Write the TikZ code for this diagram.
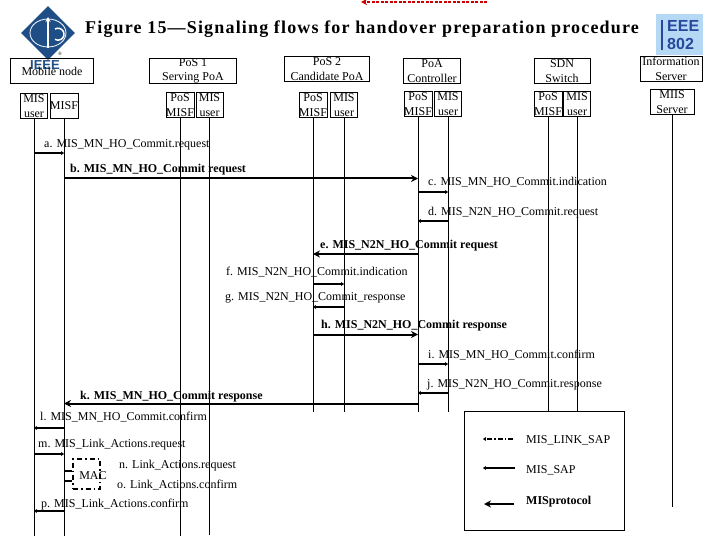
\documentclass[tikz,border=0pt]{standalone}
\usepackage{fontspec}
\setmainfont{Liberation Serif}
\setsansfont{Liberation Sans}
\usetikzlibrary{arrows.meta,positioning,shapes.geometric}
\definecolor{ieeeblue}{HTML}{1F4E86}
\definecolor{logosky}{HTML}{B5D8F5}
\definecolor{logoink}{HTML}{27489C}
\begin{document}
\begin{tikzpicture}[
  x=1pt, y=-1pt, font=\fontsize{12}{14}\selectfont, >=Stealth,
  hbox/.style={draw, thick, minimum width=#1, minimum height=25pt, inner sep=0pt, align=center, font=\fontsize{12}{14.5}\selectfont},
  sbox/.style={draw, thick, minimum width=27pt, minimum height=25pt, inner sep=0pt, align=center, font=\fontsize{12}{14.5}\selectfont},
  life/.style={draw, line width=1pt},
  sapmsg/.style={draw, line width=1.5pt, -{Stealth[length=3pt,width=4pt]}},
  protomsg/.style={draw, line width=2pt, -{Stealth[length=7pt,width=7pt]}},
  lnksap/.style={draw, line width=1.5pt, dash pattern=on 5pt off 2pt on 1.5pt off 2pt},
  lbl/.style={inner sep=0pt, anchor=west, yshift=-1.5pt, font=\fontsize{12}{14}\selectfont},
  blbl/.style={lbl, font=\bfseries\fontsize{12}{14}\selectfont},
]
\useasboundingbox (0,0) rectangle (720,540);
% ---------------- logos ----------------
\node[diamond, fill=ieeeblue, minimum width=54pt, minimum height=54pt, inner sep=0pt] (ieeelogo) at (48,33) {};
\draw[white, thick] (48,33) ellipse (18pt and 14pt);
\draw[white, line width=1.5pt, -{Stealth[length=5pt,width=5pt]}] (48,48) -- (48,17);
\draw[white, line width=1.5pt] (55,29) arc[start angle=-60, end angle=-300, radius=-6pt];
\node[lbl, anchor=center, yshift=1.5pt, text=ieeeblue, font=\sffamily\bfseries\fontsize{13}{13}\selectfont] (ieeename) at (45,65) {IEEE};
\node[lbl, anchor=center, yshift=1.5pt, font=\fontsize{5}{5}\selectfont] (ieeemark) at (60,54) {®};
\node[fill=logosky, minimum width=47pt, minimum height=41pt, inner sep=0pt] (wglogo) at (679.5,35) {};
\node[lbl, yshift=1.5pt, text=logoink, align=left, font=\sffamily\bfseries\fontsize{16}{18}\selectfont] (wgname) at (667,35) {EEE\\802};
\draw[logoink, line width=2.5pt] (662,20) -- (662,50);
\coordinate (dashstart) at (487,2);
\coordinate (dashend) at (361,2);
\draw[red!80!black, line width=1.5pt, dash pattern=on 3pt off 1.5pt, -{Stealth[length=6pt,width=6pt]}] (dashstart) -- (dashend);
% ---------------- title ----------------
\node[lbl, font=\bfseries\fontsize{18}{20}\selectfont\addfontfeature{LetterSpace=6.5}] (title) at (85,28) {Figure 15—Signaling flows for handover preparation procedure};
% ---------------- header boxes ----------------
\node[hbox=83pt] (mn) at (52,71) {Mobile node};
\node[hbox=87pt] (pos1) at (193,71) {PoS 1\\Serving PoA};
\node[hbox=85pt] (pos2) at (327,69) {PoS 2\\Candidate PoA};
\node[hbox=57pt] (poa) at (432,71) {PoA\\Controller};
\node[hbox=56pt] (sdn) at (562,71) {SDN\\Switch};
\node[hbox=62pt] (info) at (671,69) {Information\\Server};
% ---------------- sub boxes ----------------
\node[sbox] (mnuser) at (34,106) {MIS\\user};
\node[sbox] (mnmisf) at (64,106) {MISF};
\node[sbox] (p1misf) at (180,105) {PoS\\MISF};
\node[sbox] (p1user) at (209.5,105) {MIS\\user};
\node[sbox] (p2misf) at (313,105) {PoS\\MISF};
\node[sbox] (p2user) at (344,105) {MIS\\user};
\node[sbox] (pamisf) at (418,104) {PoS\\MISF};
\node[sbox] (pauser) at (448,104) {MIS\\user};
\node[sbox] (sdmisf) at (548,104) {PoS\\MISF};
\node[sbox] (sduser) at (577,104) {MIS\\user};
\node[sbox, minimum width=44pt] (mis) at (672,102) {MIIS\\Server};
% ---------------- lifelines ----------------
\foreach \nm/\bottom in {mnuser/536,mnmisf/536,p1misf/536,p1user/535,p2misf/412,p2user/412,pamisf/412,pauser/412,sdmisf/412,sduser/412,mis/507}{
  \coordinate (\nm-end) at (\nm.south |- 0,\bottom);
  \draw[life] (\nm.south) -- (\nm-end);
}
% ---------------- messages ----------------
\coordinate (ya) at (0,153);
\draw[sapmsg] (mnuser |- ya) -- (mnmisf |- ya);
\node[lbl] (la) at (44,143) {a. MIS\_MN\_HO\_Commit.request};
\coordinate (yb) at (0,178.5);
\draw[protomsg] (mnmisf |- yb) -- (pamisf |- yb);
\node[blbl] (lb) at (70,168) {b. MIS\_MN\_HO\_Commit request};
\coordinate (yc) at (0,192);
\draw[sapmsg] (pamisf |- yc) -- (pauser |- yc);
\node[lbl] (lc) at (428,181) {c. MIS\_MN\_HO\_Commit.indication};
\coordinate (yd) at (0,221);
\draw[sapmsg] (pauser |- yd) -- (pamisf |- yd);
\node[lbl] (ld) at (428,211) {d. MIS\_N2N\_HO\_Commit.request};
\coordinate (ye) at (0,254);
\draw[protomsg] (pamisf |- ye) -- (p2misf |- ye);
\node[blbl] (le) at (320,244) {e. MIS\_N2N\_HO\_Commit request};
\coordinate (yf) at (0,284);
\draw[sapmsg] (p2misf |- yf) -- (p2user |- yf);
\node[lbl] (lf) at (226,271) {f. MIS\_N2N\_HO\_Commit.indication};
\coordinate (yg) at (0,307);
\draw[sapmsg] (p2user |- yg) -- (p2misf |- yg);
\node[lbl] (lg) at (225,296) {g. MIS\_N2N\_HO\_Commit\_response};
\coordinate (yh) at (0,334.5);
\draw[protomsg] (p2misf |- yh) -- (pamisf |- yh);
\node[blbl] (lh) at (321,324) {h. MIS\_N2N\_HO\_Commit response};
\coordinate (yi) at (0,364);
\draw[sapmsg] (pamisf |- yi) -- (pauser |- yi);
\node[lbl] (li) at (428,354) {i. MIS\_MN\_HO\_Commit.confirm};
\coordinate (yj) at (0,393);
\draw[sapmsg] (pauser |- yj) -- (pamisf |- yj);
\node[lbl] (lj) at (427,383) {j. MIS\_N2N\_HO\_Commit.response};
\coordinate (yk) at (0,403.5);
\draw[protomsg] (pamisf |- yk) -- (mnmisf |- yk);
\node[blbl] (lk) at (80,395) {k. MIS\_MN\_HO\_Commit response};
\coordinate (yl) at (0,428);
\draw[sapmsg] (mnmisf |- yl) -- (mnuser |- yl);
\node[lbl] (ll) at (40,416) {l. MIS\_MN\_HO\_Commit.confirm};
\coordinate (ym) at (0,454);
\draw[sapmsg] (mnuser |- ym) -- (mnmisf |- ym);
\node[lbl] (lm) at (38,443) {m. MIS\_Link\_Actions.request};
% ---------------- mac ----------------
\node[draw, line width=1.5pt, dash pattern=on 5pt off 3pt on 1.5pt off 3pt, minimum width=27pt, minimum height=30pt, inner sep=0pt] (mac) at (86.5,474) {};
\node[lbl, anchor=center] (maclbl) at (93,474) {MAC};
\coordinate (yn) at (0,471);
\coordinate (yo) at (0,481);
\draw[line width=1.5pt] (mnmisf |- yn) -- (mac.west |- yn);
\draw[line width=1.5pt] (mac.west |- yo) -- (mnmisf |- yo);
\node[lbl] (ln) at (119,464) {n. Link\_Actions.request};
\node[lbl] (lo) at (117,484) {o. Link\_Actions.confirm};
\coordinate (yp) at (0,511);
\draw[sapmsg] (mnmisf |- yp) -- (mnuser |- yp);
\node[lbl] (lp) at (41,503) {p. MIS\_Link\_Actions.confirm};
% ---------------- legend ----------------
\node[draw, line width=1pt, fill=white, minimum width=160pt, minimum height=119pt, inner sep=0pt] (legend) at (544.5,470.5) {};
\coordinate (s1r) at (513,439);
\coordinate (s1l) at (483,439);
\draw[lnksap, -{Stealth[length=3pt,width=4pt]}] (s1r) -- (s1l);
\node[lbl] (t1) at (526,439) {MIS\_LINK\_SAP};
\coordinate (s2r) at (515,468);
\coordinate (s2l) at (483,468);
\draw[sapmsg] (s2r) -- (s2l);
\node[lbl] (t2) at (526,469) {MIS\_SAP};
\coordinate (s3r) at (514,504);
\coordinate (s3l) at (484,504);
\draw[protomsg] (s3r) -- (s3l);
\node[blbl] (t3) at (526,500) {MISprotocol};
\end{tikzpicture}
\end{document}
